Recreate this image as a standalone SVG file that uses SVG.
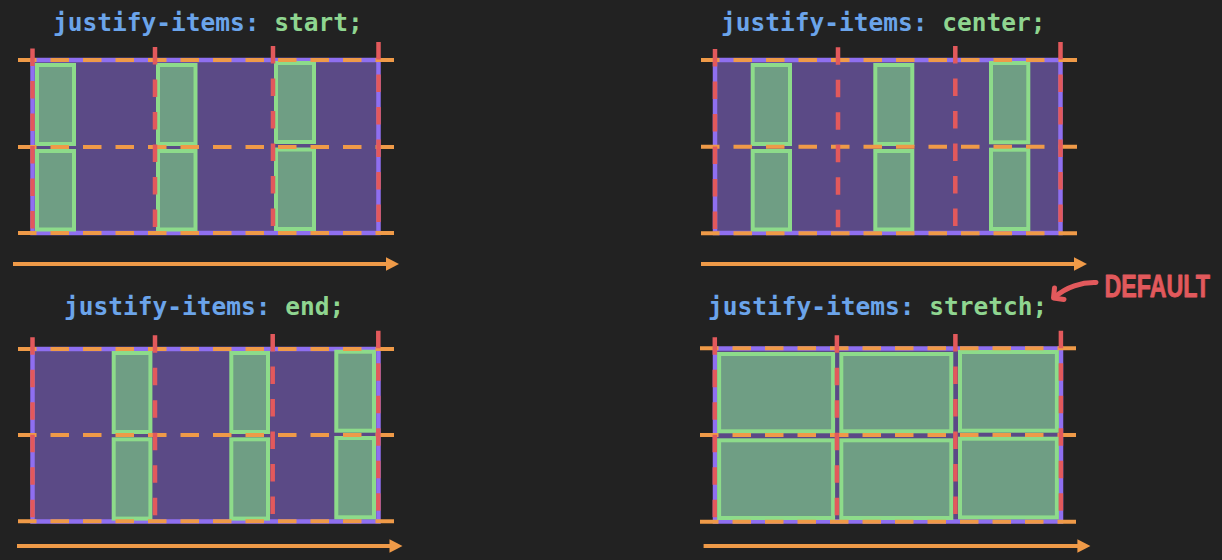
<svg xmlns="http://www.w3.org/2000/svg" width="1222" height="560" viewBox="0 0 1222 560">
<defs>
<style>
.bg{fill:#222222}
.title{font-family:"DejaVu Sans Mono","Liberation Mono",monospace;font-weight:bold;font-size:24.5px}
.k{fill:#6ba4ea}
.v{fill:#8fd590}
.cont{fill:#5b4a86;stroke:#8f6ff0;stroke-width:4.5}
.item{fill:#6f9e84;stroke:#8ddb8a;stroke-width:4}
.row{stroke:#ef9a48;stroke-width:4;stroke-dasharray:18.5 14;fill:none}
.col{stroke:#e2595c;stroke-width:4.5;stroke-dasharray:17.5 15;fill:none}
.axis{stroke:#ef9a48;stroke-width:4;fill:none}
.head{fill:#ef9a48}
.note{font-family:"Liberation Sans",Arial,sans-serif;font-weight:bold;font-size:31px;fill:#e2595c;stroke:#e2595c;stroke-width:0.8;stroke-linejoin:round}
.curl{stroke:#e2595c;stroke-width:5;fill:none;stroke-linecap:round;stroke-linejoin:round}
</style>
</defs>
<rect class="bg" x="0" y="0" width="1222" height="560"/>

<g id="panel-start">
<text class="title" x="53" y="31"><tspan class="k">justify-items: </tspan><tspan class="v">start;</tspan></text>
<rect class="cont" x="32.5" y="60" width="346" height="173"/>
<g id="start-items">
<rect class="item" x="37" y="65" width="37" height="79"/>
<rect class="item" x="37" y="151" width="37" height="78.5"/>
<rect class="item" x="158" y="65" width="37.5" height="79"/>
<rect class="item" x="158" y="151" width="37.5" height="78.5"/>
<rect class="item" x="276" y="63" width="38" height="79"/>
<rect class="item" x="276" y="149.5" width="38" height="79.5"/>
</g>
</g>

<g id="panel-center">
<text class="title" x="721" y="31"><tspan class="k">justify-items: </tspan><tspan class="v">center;</tspan></text>
<rect class="cont" x="715" y="60" width="345.5" height="173"/>
<g id="center-items">
<rect class="item" x="752.7" y="65" width="37.3" height="79"/>
<rect class="item" x="752.7" y="151" width="37.3" height="78.5"/>
<rect class="item" x="875.3" y="65" width="37" height="79"/>
<rect class="item" x="875.3" y="151" width="37" height="78.5"/>
<rect class="item" x="991" y="63" width="37.3" height="79.3"/>
<rect class="item" x="991" y="149.7" width="37.3" height="79.3"/>
</g>
</g>

<g id="panel-end">
<text class="title" x="64" y="315"><tspan class="k">justify-items: </tspan><tspan class="v">end;</tspan></text>
<rect class="cont" x="32.5" y="349" width="346" height="172.5"/>
<g id="end-items">
<rect class="item" x="113.7" y="353" width="36.7" height="79"/>
<rect class="item" x="113.7" y="439.3" width="36.7" height="79.3"/>
<rect class="item" x="231.3" y="353" width="36.7" height="79"/>
<rect class="item" x="231.3" y="439.3" width="36.7" height="79.3"/>
<rect class="item" x="336.3" y="351.7" width="37.7" height="79"/>
<rect class="item" x="336.3" y="438" width="37.7" height="79.3"/>
</g>
</g>

<g id="panel-stretch">
<text class="title" x="708" y="315"><tspan class="k">justify-items: </tspan><tspan class="v">stretch;</tspan></text>
<rect class="cont" x="715" y="348.5" width="346" height="173"/>
<g id="stretch-items">
<rect class="item" x="719.1" y="354" width="114" height="77.3"/>
<rect class="item" x="719.1" y="440.3" width="114" height="77.7"/>
<rect class="item" x="841.3" y="354" width="110" height="77.3"/>
<rect class="item" x="841.3" y="440.3" width="110" height="77.7"/>
<rect class="item" x="960" y="352" width="96.9" height="78.7"/>
<rect class="item" x="960" y="438.7" width="96.9" height="78.7"/>
</g>
</g>

<g id="connectors">
<g id="start-lines">
<line class="row" x1="18" y1="60" x2="395" y2="60"/>
<line class="row" x1="18" y1="147" x2="395" y2="147"/>
<line class="row" x1="18" y1="233" x2="395" y2="233"/>
<line class="col" x1="32.5" y1="48.5" x2="32.5" y2="233"/>
<line class="col" x1="155" y1="47" x2="155" y2="233"/>
<line class="col" x1="273" y1="46" x2="273" y2="233"/>
<line class="col" x1="378.5" y1="42" x2="378.5" y2="233"/>
<line class="axis" x1="13" y1="264" x2="387" y2="264"/>
<polygon class="head" points="386,257.3 399,264 386,270.7"/>
</g>
<g id="center-lines">
<line class="row" x1="701" y1="60" x2="1078" y2="60"/>
<line class="row" x1="701" y1="146.7" x2="1078" y2="146.7"/>
<line class="row" x1="701" y1="233.3" x2="1078" y2="233.3"/>
<line class="col" x1="715" y1="49" x2="715" y2="233"/>
<line class="col" x1="838" y1="47.3" x2="838" y2="233"/>
<line class="col" x1="955.3" y1="46" x2="955.3" y2="233"/>
<line class="col" x1="1060.5" y1="42" x2="1060.5" y2="233"/>
<line class="axis" x1="701" y1="264" x2="1075" y2="264"/>
<polygon class="head" points="1074,257.3 1087,264 1074,270.7"/>
</g>
<g id="end-lines">
<line class="row" x1="18" y1="349" x2="395" y2="349"/>
<line class="row" x1="18" y1="435" x2="395" y2="435"/>
<line class="row" x1="18" y1="521.3" x2="395" y2="521.3"/>
<line class="col" x1="32.5" y1="337.3" x2="32.5" y2="521.3"/>
<line class="col" x1="155" y1="335.3" x2="155" y2="521.3"/>
<line class="col" x1="272.7" y1="334" x2="272.7" y2="521.3"/>
<line class="col" x1="378.3" y1="330.7" x2="378.3" y2="521.3"/>
<line class="axis" x1="17" y1="546" x2="390" y2="546"/>
<polygon class="head" points="389.5,539.3 402.5,546 389.5,552.7"/>
</g>
<g id="stretch-lines">
<line class="row" x1="700" y1="348.3" x2="1078" y2="348.3"/>
<line class="row" x1="700" y1="435" x2="1078" y2="435"/>
<line class="row" x1="700" y1="521.7" x2="1078" y2="521.7"/>
<line class="col" x1="714.8" y1="337.3" x2="714.8" y2="521.7"/>
<line class="col" x1="836.9" y1="335.3" x2="836.9" y2="521.7"/>
<line class="col" x1="955.4" y1="334" x2="955.4" y2="521.7"/>
<line class="col" x1="1060.9" y1="330.7" x2="1060.9" y2="521.7"/>
<line class="axis" x1="703.6" y1="546" x2="1078" y2="546"/>
<polygon class="head" points="1077.4,539.3 1090.4,546 1077.4,552.7"/>
</g>
<g id="default-arrow">
<path class="curl" d="M1096,282.5 C1082,282 1066,287 1055,297"/>
<path class="curl" d="M1054.5,288 L1053.5,298 L1064,299.5"/>
</g>
</g>

<g id="default-note">
<text class="note" transform="translate(1104.5,297) scale(0.75,1)" x="0" y="0">DEFAULT</text>
</g>
</svg>
